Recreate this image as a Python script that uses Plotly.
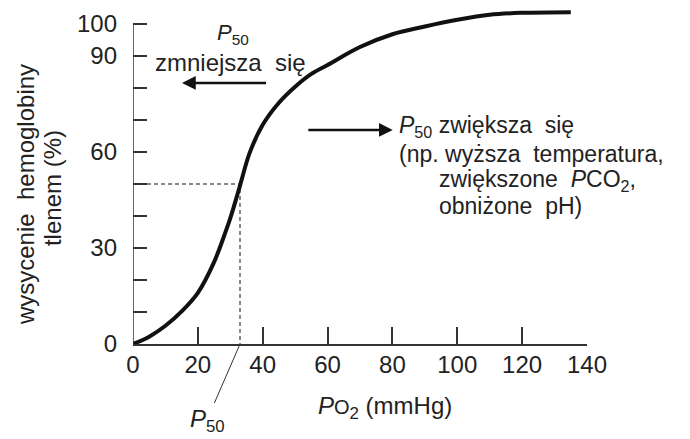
import plotly.graph_objects as go

# Data
po2 = [0, 5, 10, 15, 20, 25, 28, 30, 33, 36, 40, 45, 50, 55, 60, 70, 80, 90, 100, 110, 120, 135]
saturation = [0, 2.3, 5.7, 10.2, 16, 25.6, 33.5, 39.3, 49.5, 59.8, 68.5, 75.4, 80.4, 84.4, 87.2,
              92.8, 96.8, 99.2, 101.3, 102.9, 103.5, 103.7]
p50 = 33
x_ticks = [0, 20, 40, 60, 80, 100, 120, 140]
y_ticks = [0, 10, 20, 30, 40, 50, 60, 70, 80, 90, 100]
y_tick_text = ["0", "", "", "30", "", "", "60", "", "", "90", "100"]

FONT = "Liberation Sans, Arial, Helvetica, sans-serif"
INK = "#111111"
TXT = "#222222"
FS = 24

fig = go.Figure()
fig.add_trace(go.Scatter(
    x=po2, y=saturation, mode="lines",
    line=dict(color=INK, width=4, shape="spline", smoothing=1.0),
    hoverinfo="skip", showlegend=False,
))

# dashed P50 guides
fig.add_trace(go.Scatter(
    x=[0, p50, p50], y=[50, 50, 0], mode="lines",
    line=dict(color=INK, width=1, dash="4px,3px"),
    hoverinfo="skip", showlegend=False,
))

# y axis line (0..100 only)
fig.add_shape(type="line", xref="x", yref="y", x0=0, x1=0, y0=0, y1=100,
              line=dict(color="#333333", width=1.5), layer="above")

L, T = 133, 8
W, H = 454.3, 336
fig.update_layout(
    width=690, height=439,
    margin=dict(l=L, r=690 - L - W, t=T, b=439 - T - H, pad=0),
    paper_bgcolor="white", plot_bgcolor="white",
    font=dict(family=FONT, size=FS, color=TXT),
    xaxis=dict(range=[0, 140], tickvals=x_ticks, ticks="inside", ticklen=17,
               tickwidth=1.5, tickcolor="#333333", showline=True, linecolor="#333333",
               linewidth=1.5, showgrid=False, zeroline=False, ticklabelstandoff=-2,
               tickfont=dict(size=FS, color=TXT)),
    yaxis=dict(range=[0, 105], tickvals=y_ticks, ticktext=y_tick_text, ticks="inside",
               ticklen=14, tickwidth=1.5, tickcolor="#333333", showline=False,
               showgrid=False, zeroline=False, ticklabelstandoff=15,
               tickfont=dict(size=FS, color=TXT)),
)

def ann(text, x, y, xanchor="center", size=FS, xref="x", yref="y", **kw):
    fig.add_annotation(text=text, x=x, y=y, xref=xref, yref=yref, xanchor=xanchor,
                       yanchor="middle", showarrow=False,
                       font=dict(family=FONT, size=size, color=TXT), **kw)

# top-left note
ann("<i>P</i><sub>50</sub>", 30.8, 97.0, size=22)
ann("zmniejsza\u00a0 się", 30.2, 88.1)
fig.add_annotation(x=15.1, y=81.6, ax=41.5, ay=81.6, axref="x", ayref="y",
                   xref="x", yref="y", text="", showarrow=True, arrowhead=2,
                   arrowsize=1.1, arrowwidth=2.5, arrowcolor=INK)

# right note
fig.add_annotation(x=80.1, y=66.9, ax=53.6, ay=66.9, axref="x", ayref="y",
                   xref="x", yref="y", text="", showarrow=True, arrowhead=2,
                   arrowsize=1.1, arrowwidth=2.5, arrowcolor=INK)
RS = 23
ann("<i>P</i><sub>50</sub> zwiększa\u00a0 się", 81.4, 68.1, xanchor="left", size=RS)
ann("(np. wyższa\u00a0 temperatura,", 81.4, 59.5, xanchor="left", size=RS)
ann("zwiększone\u00a0 <i>P</i>CO<sub>2</sub>,", 93.7, 51.1, xanchor="left", size=RS)
ann("obniżone\u00a0 pH)", 93.7, 43.1, xanchor="left", size=RS)

# P50 pointer below axis
fig.add_annotation(x=p50, y=0, xref="x", yref="y", ax=-33, ay=76,
                   text="<i>P</i><sub>50</sub>", showarrow=True, arrowhead=0,
                   arrowwidth=1, arrowcolor="#333333", standoff=0,
                   font=dict(family=FONT, size=FS, color=TXT))

# axis titles
ann("<i>P</i><span style='font-size:20px'>O</span><sub>2</sub> (mmHg)",
    (385 - L) / W, (T + H - 407) / H, xref="paper", yref="paper")
ann("wysycenie\u00a0 hemoglobiny", (25 - L) / W, (T + H - 195) / H, xref="paper", yref="paper",
    textangle=-90)
ann("tlenem (%)", (52 - L) / W, (T + H - 188) / H, xref="paper", yref="paper", textangle=-90)

fig.write_html("out.html", config={"displayModeBar": False},
               post_script="document.body.style.margin='0';")
